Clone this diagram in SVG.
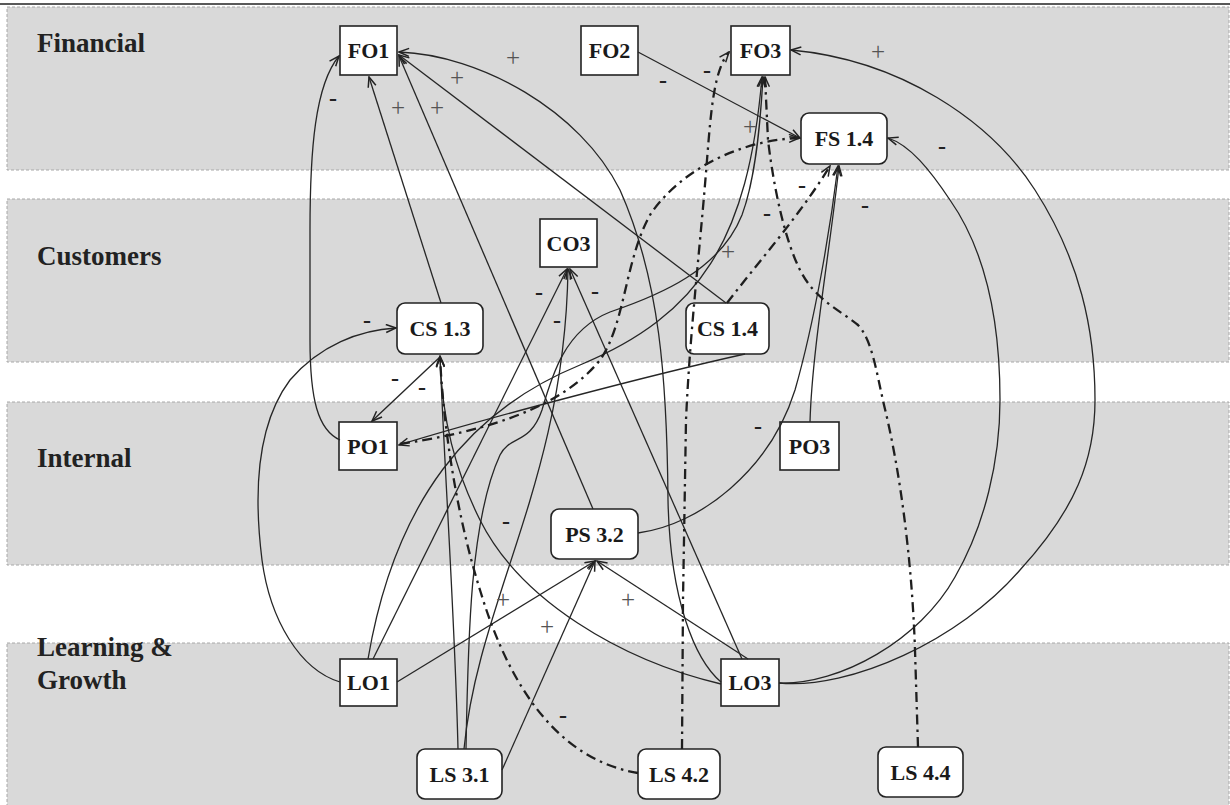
<svg xmlns="http://www.w3.org/2000/svg" width="1230" height="805" viewBox="0 0 1230 805">
<style>
.band{fill:#d9d9d9;stroke:#a8a8a8;stroke-width:1;stroke-dasharray:3,2}
.lbl{font-family:"Liberation Serif","Times New Roman",serif;font-weight:bold;font-size:27px;fill:#222}
.box{fill:#fff;stroke:#222;stroke-width:1.6}
.nt{font-family:"Liberation Serif","Times New Roman",serif;font-weight:bold;font-size:22px;fill:#1a1a1a;text-anchor:middle}
.c{fill:none;stroke:#262626;stroke-width:1.3}
.d{fill:none;stroke:#1e1e1e;stroke-width:2.3;stroke-dasharray:10,5,2.5,5}
.p{font-family:"Liberation Serif","Times New Roman",serif;font-size:25px;fill:#555;text-anchor:middle}
.m{font-family:"Liberation Serif","Times New Roman",serif;font-weight:bold;font-size:24px;fill:#222;text-anchor:middle}
</style>
<defs>
<marker id="a" viewBox="0 0 12 10" refX="11" refY="5" markerWidth="12" markerHeight="10" markerUnits="userSpaceOnUse" orient="auto"><path d="M1,1 L11,5 L1,9" fill="none" stroke="#222" stroke-width="1.5"/></marker>
</defs>
<rect width="1230" height="805" fill="#fff"/>
<g id="bands">
<rect class="band" x="7" y="7" width="1222" height="163"/>
<rect class="band" x="7" y="199" width="1222" height="163"/>
<rect class="band" x="7" y="402" width="1222" height="163"/>
<rect class="band" x="7" y="643" width="1222" height="170"/>
<line x1="0" y1="4" x2="1230" y2="4" stroke="#222" stroke-width="1.6"/>
<text class="lbl" x="37" y="52">Financial</text>
<text class="lbl" x="37" y="265">Customers</text>
<text class="lbl" x="37" y="467">Internal</text>
<text class="lbl" x="37" y="656">Learning &amp;</text>
<text class="lbl" x="37" y="689">Growth</text>
</g>
<g id="FO1"><rect class="box" x="340" y="26" width="57" height="49"/><text class="nt" x="368.5" y="58">FO1</text></g>
<g id="FO2"><rect class="box" x="581" y="26" width="57" height="49"/><text class="nt" x="609.5" y="58">FO2</text></g>
<g id="FO3"><rect class="box" x="731" y="26" width="59" height="49"/><text class="nt" x="760.5" y="58">FO3</text></g>
<g id="FS14"><rect class="box" x="801" y="113" width="86" height="51" rx="8"/><text class="nt" x="844" y="146">FS 1.4</text></g>
<g id="CO3"><rect class="box" x="540" y="219" width="57" height="48"/><text class="nt" x="568.5" y="250.5">CO3</text></g>
<g id="CS13"><rect class="box" x="397" y="303" width="86" height="51" rx="8"/><text class="nt" x="440" y="336">CS 1.3</text></g>
<g id="CS14"><rect class="box" x="686" y="303" width="83" height="51" rx="8"/><text class="nt" x="727.5" y="336">CS 1.4</text></g>
<g id="PO1"><rect class="box" x="339" y="422" width="58" height="48"/><text class="nt" x="368" y="453.5">PO1</text></g>
<g id="PO3"><rect class="box" x="780" y="422" width="59" height="48"/><text class="nt" x="809.5" y="453.5">PO3</text></g>
<g id="PS32"><rect class="box" x="551" y="509" width="87" height="50" rx="8"/><text class="nt" x="594.5" y="541.5">PS 3.2</text></g>
<g id="LO1"><rect class="box" x="340" y="659" width="57" height="47"/><text class="nt" x="368.5" y="690">LO1</text></g>
<g id="LO3"><rect class="box" x="721" y="659" width="58" height="47"/><text class="nt" x="750" y="690">LO3</text></g>
<g id="LS31"><rect class="box" x="417" y="749" width="85" height="50" rx="8"/><text class="nt" x="459.5" y="781.5">LS 3.1</text></g>
<g id="LS42"><rect class="box" x="638" y="749" width="82" height="50" rx="8"/><text class="nt" x="679" y="781.5">LS 4.2</text></g>
<g id="LS44"><rect class="box" x="878" y="747" width="85" height="50" rx="8"/><text class="nt" x="920.5" y="779.5">LS 4.4</text></g>
<g id="connectors" marker-end="url(#a)">
<path class="c" d="M340,440 C318,430 310,400 310,340 L310,230 C310,150 315,85 339,56" marker-end="url(#a)"/>
<path class="c" d="M441,303 L369,77" marker-end="url(#a)"/>
<path class="c" d="M593,509 L399,56" marker-end="url(#a)"/>
<path class="c" d="M726,303 L399,55" marker-end="url(#a)"/>
<path class="c" d="M721,682 C695,660 670,600 668,500 C667,380 660,280 620,190 C580,110 480,55 399,52" marker-end="url(#a)"/>
<path class="c" d="M340,682 C300,670 270,620 262,560 C252,480 260,420 290,380 C320,345 360,330 396,328" marker-end="url(#a)"/>
<path class="c" d="M440,357 L372,421" marker-end="url(#a)"/>
<path class="c" d="M745,354 C650,375 480,420 399,445" marker-end="url(#a)"/>
<path class="c" d="M373,659 L567,269" marker-end="url(#a)"/>
<path class="c" d="M464,749 C478,600 565,480 568,269" marker-end="url(#a)"/>
<path class="c" d="M742,659 L570,269" marker-end="url(#a)"/>
<path class="c" d="M368,659 C395,500 470,410 580,365 C700,315 748,240 762,77" marker-end="url(#a)"/>
<path class="c" d="M466,749 C468,640 470,520 500,455 C510,435 530,445 542,410 C552,375 565,330 610,312 C660,295 720,270 742,215 C755,180 760,130 763,77" marker-end="url(#a)"/>
<path class="c" d="M779,683 C850,690 960,640 1020,570 C1075,510 1095,460 1095,400 C1095,330 1080,260 1035,190 C990,120 900,60 791,50" marker-end="url(#a)"/>
<path class="c" d="M779,683 C840,685 920,640 955,577 C985,525 1000,460 1000,400 C1000,320 985,250 950,200 C930,170 910,145 888,138" marker-end="url(#a)"/>
<path class="c" d="M810,422 C812,350 830,250 839,166" marker-end="url(#a)"/>
<path class="c" d="M638,533 C700,525 770,470 795,390 C815,320 830,230 838,166" marker-end="url(#a)"/>
<path class="c" d="M638,52 L800,138" marker-end="url(#a)"/>
<path class="c" d="M397,682 L595,561" marker-end="url(#a)"/>
<path class="c" d="M502,770 L595,561" marker-end="url(#a)"/>
<path class="c" d="M748,659 L597,561" marker-end="url(#a)"/>
<path class="c" d="M721,684 C620,660 520,600 480,520 C455,470 442,420 440,357" marker-end="url(#a)"/>
<path class="c" d="M458,749 C455,620 445,480 440,356" stroke-width="1.8" marker-end="url(#a)"/>
<path class="d" d="M682,749 L683,600 L686,420 C690,330 700,250 707,160 C711,110 714,70 729,52" marker-end="url(#a)"/>
<path class="d" d="M918,747 L915,650 C912,560 900,470 884,405 C876,370 872,340 858,325 C840,310 815,300 800,270 C785,240 774,190 768,140 L765,77" marker-end="url(#a)"/>
<path class="d" d="M727,303 C760,260 800,215 830,166" marker-end="url(#a)"/>
<path class="d" d="M400,444 C480,432 560,410 600,360 C625,325 625,260 650,215 C680,170 740,140 799,138" marker-end="url(#a)"/>
<path class="d" d="M638,773 C560,760 510,690 480,590 C455,510 443,420 440,357" marker-end="url(#a)"/>
</g>
<g id="signs">
<text class="p" x="513" y="66">+</text>
<text class="p" x="457" y="86">+</text>
<text class="p" x="398" y="116">+</text>
<text class="p" x="437" y="116">+</text>
<text class="p" x="878" y="60">+</text>
<text class="p" x="750" y="135">+</text>
<text class="p" x="728" y="260">+</text>
<text class="p" x="503" y="608">+</text>
<text class="p" x="547" y="635">+</text>
<text class="p" x="628" y="608">+</text>
<text class="m" x="333" y="106">-</text>
<text class="m" x="663" y="88">-</text>
<text class="m" x="707" y="78">-</text>
<text class="m" x="942" y="154">-</text>
<text class="m" x="802" y="193">-</text>
<text class="m" x="865" y="213">-</text>
<text class="m" x="767" y="221">-</text>
<text class="m" x="539" y="300">-</text>
<text class="m" x="595" y="299">-</text>
<text class="m" x="557" y="328">-</text>
<text class="m" x="367" y="328">-</text>
<text class="m" x="395" y="386">-</text>
<text class="m" x="422" y="395">-</text>
<text class="m" x="758" y="434">-</text>
<text class="m" x="506" y="529">-</text>
<text class="m" x="563" y="723">-</text>
</g>
</svg>
